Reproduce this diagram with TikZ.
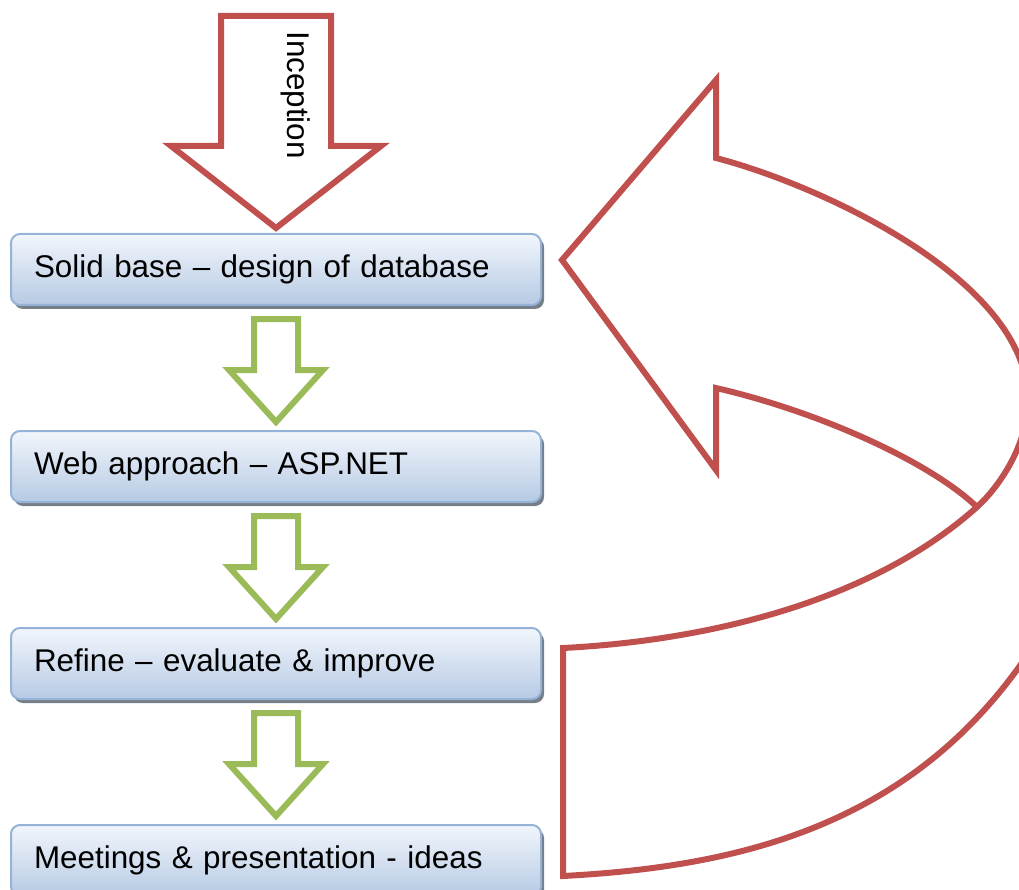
\documentclass[tikz,border=0pt]{standalone}
\usepackage{fontspec}
\setmainfont{Liberation Sans}
\usepackage{tikz}
\usetikzlibrary{shadows, calc}
\definecolor{flowred}{RGB}{192,80,77}
\definecolor{flowgreen}{RGB}{155,187,89}
\definecolor{flowedge}{RGB}{149,179,215}
\definecolor{flowtop}{RGB}{242,246,252}
\definecolor{flowbot}{RGB}{182,202,228}

\begin{document}
\begin{tikzpicture}[x=1pt, y=-1pt,
  stage/.style={draw=flowedge, line width=2pt, rounded corners=9pt,
    top color=flowtop, bottom color=flowbot,
    drop shadow={shadow xshift=3pt, shadow yshift=-4pt,
                 fill=black!60!flowedge, opacity=0.7},
    minimum height=71pt, text width=484pt, inner xsep=23pt, align=left,
    anchor=north west, font=\fontsize{31.4}{38}\selectfont},
  redarrow/.style={draw=flowred, line width=6pt, line join=miter, miter limit=12},
  greenarrow/.style={draw=flowgreen, line width=6pt, line join=miter, fill=white}]

\path[use as bounding box] (0,0) rectangle (1019,890);
\clip (0,0) rectangle (1019,890);

%% STAGES – the four boxes
\node[stage] (base)   at (10,233) {Solid base – design of database};
\node[stage] (web)    at (10,430) {Web approach – ASP.NET};
\node[stage] (refine) at (10,627) {Refine – evaluate \& improve};
\node[stage] (meet)   at (10,824) {Meetings \& presentation - ideas};

%% green block arrows between the stages
\foreach \a in {base, web, refine}
  \draw[greenarrow, shift={(\a.south)}]
    (-22,13) -- (22,13) -- (22,64) -- (47,64) -- (0,116) -- (-47,64) -- (-22,64) -- cycle;

%% INCEPTION – red block arrow on top
\draw[redarrow] (221,16) -- (331,16) -- (331,146) -- (381,146) -- (276,228)
  -- (171,146) -- (221,146) -- cycle;
\node[rotate=-90, inner sep=0pt, font=\fontsize{31.4}{38}\selectfont] (incep)
  at (296,95) {Inception};

%% LOOP – curved red arrow back to the base
\draw[redarrow] (1070,480) .. controls (1070,540) and (1054,618) .. (1019,667)
  .. controls (902,829) and (733,867) .. (563,876) -- (563,648)
  .. controls (683,642) and (861,611) .. (977,507)
  .. controls (999,487) and (1028,445) .. (1028,400)
  .. controls (1028,280) and (820,185) .. (716,158)
  -- (716,80) -- (562,260) -- (716,470) -- (716,388)
  .. controls (820,412) and (930,462) .. (977,507);
\end{tikzpicture}
\end{document}
